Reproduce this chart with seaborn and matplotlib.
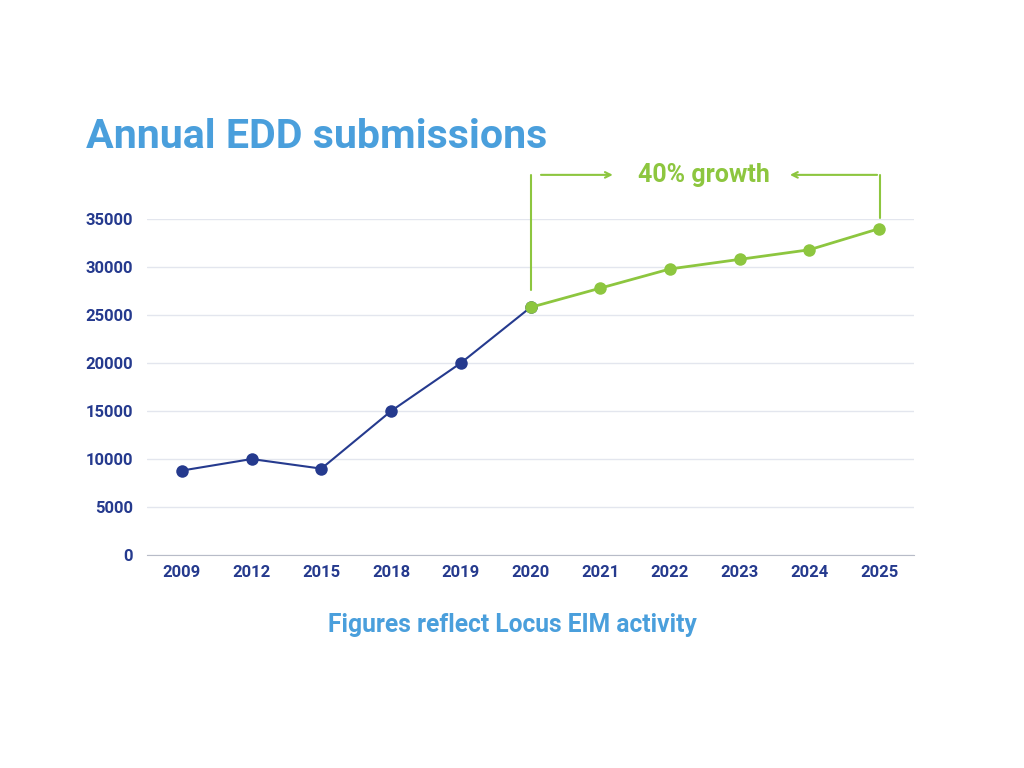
import matplotlib.pyplot as plt
import seaborn as sns
import pandas as pd

sns.set_style('white')
plt.rcParams['font.family'] = ['Roboto', 'DejaVu Sans']

years = ['2009', '2012', '2015', '2018', '2019', '2020', '2021', '2022', '2023', '2024', '2025']
submissions = [8800, 10000, 9000, 15000, 20000, 25800, 27800, 29800, 30800, 31800, 34000]

navy = '#253a8e'
green = '#8dc63f'
sky = '#4a9fdc'

df = pd.DataFrame({'year': years, 'submissions': submissions})
df['x'] = range(len(years))
early = df[df['x'] <= 5]
late = df[df['x'] >= 5]

plt.figure(figsize=(10.24, 7.68), dpi=100)
ax = plt.axes([0.1436, 0.2773, 0.749, 0.4375])
sns.lineplot(data=early, x='x', y='submissions', color=navy, lw=1.5, marker='o', markersize=9, markeredgewidth=0, ax=ax)
sns.lineplot(data=late, x='x', y='submissions', color=green, lw=2, marker='o', markersize=9, markeredgewidth=0, ax=ax)

plt.xlim(-0.5, 10.5)
plt.ylim(0, 35000)
plt.xticks(range(len(years)), years)
plt.yticks(range(0, 35001, 5000))
plt.tick_params(labelsize=12, colors=navy, length=0, pad=10)
plt.tick_params(axis='x', pad=7)
for t in ax.get_xticklabels() + ax.get_yticklabels():
    t.set_fontweight('bold')
plt.grid(axis='y', color='#e3e6ee', lw=1)
plt.xlabel('')
plt.ylabel('')
for s in ['top', 'right', 'left']:
    ax.spines[s].set_visible(False)
ax.spines['bottom'].set_color('#b8bcc8')

# growth annotation above the plot
plt.plot([5, 5], [27600, 39600], color=green, lw=1.5, clip_on=False)
plt.plot([10.01, 10.01], [35100, 39600], color=green, lw=1.5, clip_on=False)
plt.annotate('', xy=(6.22, 39600), xytext=(5.11, 39600), arrowprops=dict(arrowstyle='->', color=green, lw=1.5), annotation_clip=False)
plt.annotate('', xy=(8.68, 39600), xytext=(10.01, 39600), arrowprops=dict(arrowstyle='->', color=green, lw=1.5), annotation_clip=False)
plt.text(7.48, 39600, '40% growth', color=green, fontsize=18, fontweight='bold', ha='center', va='center')

plt.figtext(0.084, 0.822, 'Annual EDD submissions', color=sky, fontsize=29.6, fontweight='bold', ha='left', va='center')
plt.figtext(0.5, 0.186, 'Figures reflect Locus EIM activity', color=sky, fontsize=17.7, fontweight='bold', ha='center', va='center')

plt.savefig('out.png', dpi=100)
